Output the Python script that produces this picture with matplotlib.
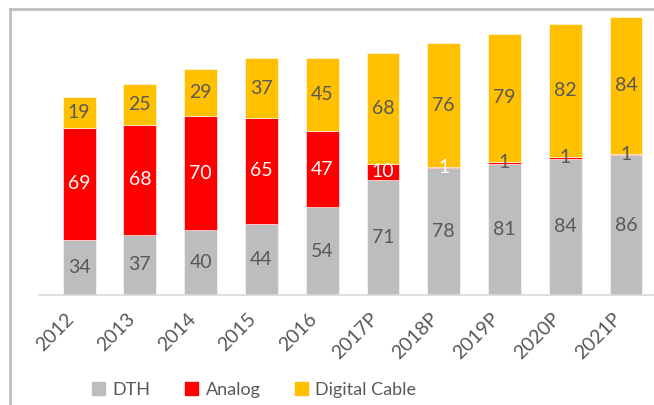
import matplotlib.pyplot as plt
from matplotlib.lines import Line2D
from matplotlib.patches import Patch
from matplotlib.transforms import ScaledTranslation

years = ['2012', '2013', '2014', '2015', '2016', '2017P', '2018P', '2019P', '2020P', '2021P']
dth = [34, 37, 40, 44, 54, 71, 78, 81, 84, 86]
analog = [69, 68, 70, 65, 47, 10, 1, 1, 1, 1]
digital = [19, 25, 29, 37, 45, 68, 76, 79, 82, 84]
analog_label_colors = ['white'] * 7 + ['#595959'] * 3

c_dth = '#BDBDBF'
c_analog = '#FF0000'
c_digital = '#FFC000'
txt = '#595959'

plt.rcParams['font.family'] = ['Lato', 'DejaVu Sans']

fig = plt.figure(figsize=(6.54, 4.05), dpi=100)
ax = fig.add_axes([39 / 654, 1 - 295 / 405, 1 - 39 / 654, 285 / 405])

x = list(range(len(years)))
w = 0.54
bottom2 = [a + b for a, b in zip(dth, analog)]
ax.bar(x, dth, w, color=c_dth, edgecolor='white', linewidth=0.4)
ax.bar(x, analog, w, bottom=dth, color=c_analog, edgecolor='white', linewidth=0.4)
ax.bar(x, digital, w, bottom=bottom2, color=c_digital, edgecolor='white', linewidth=0.4)

fs = 14
for i in x:
    ax.text(i, dth[i] / 2, str(dth[i]), ha='center', va='center', fontsize=fs, color=txt)
    ax.text(i, dth[i] + analog[i] / 2, str(analog[i]), ha='center', va='center',
            fontsize=fs, color=analog_label_colors[i])
    ax.text(i, bottom2[i] + digital[i] / 2, str(digital[i]), ha='center', va='center',
            fontsize=fs, color=txt)

ax.set_xlim(-0.66, 9.46)
ax.set_ylim(0, 175.6)
ax.set_xticks(x)
ax.set_xticklabels(years, rotation=45, ha='right', rotation_mode='anchor',
                   fontsize=fs, color=txt)
ax.tick_params(axis='x', length=0, pad=11)
shift = ScaledTranslation(-14 / 100, 0, fig.dpi_scale_trans)
for lab in ax.get_xticklabels():
    lab.set_transform(lab.get_transform() + shift)
ax.set_yticks([])
for s in ['left', 'right', 'top']:
    ax.spines[s].set_visible(False)
ax.spines['bottom'].set_color('#D9D9D9')
ax.spines['bottom'].set_linewidth(1.2)

# outer chart frame (left and top edges visible)
fig.add_artist(Line2D([9.5 / 654, 9.5 / 654], [0, 1 - 8.5 / 405], color='#BFBFBF', lw=2))
fig.add_artist(Line2D([9.5 / 654, 1], [1 - 8.5 / 405, 1 - 8.5 / 405], color='#BFBFBF', lw=2))

handles = [Patch(color=c_dth), Patch(color=c_analog), Patch(color=c_digital)]
fig.legend(handles, ['DTH', 'Analog', 'Digital Cable'], loc='center',
           bbox_to_anchor=(254 / 654, 1 - 390 / 405), ncol=3, frameon=False,
           fontsize=13, labelcolor=txt, handlelength=0.75, handleheight=0.75,
           handletextpad=0.4, columnspacing=1.9, borderpad=0)

fig.savefig('out.png', dpi=100)
